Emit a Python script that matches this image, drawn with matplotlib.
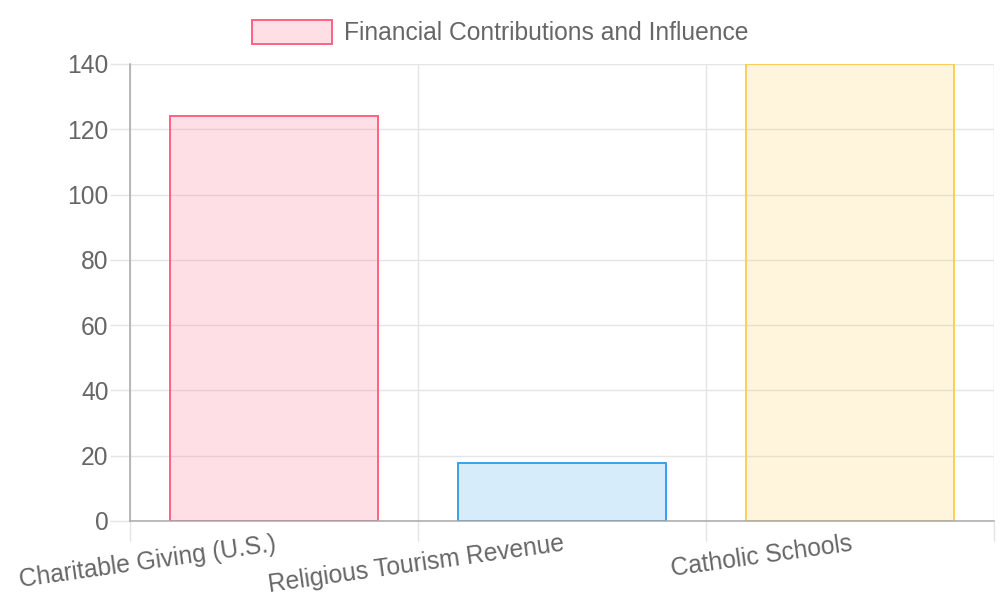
import matplotlib.pyplot as plt
import numpy as np

plt.rcParams['font.family'] = ['Liberation Sans', 'DejaVu Sans']

categories = ['Charitable Giving (U.S.)', 'Religious Tourism Revenue', 'Catholic Schools']
values = [124, 17.7, 140]
legend_label = 'Financial Contributions and Influence'

fill_colors = [(1, 99/255, 132/255, 0.2), (54/255, 162/255, 235/255, 0.2), (1, 206/255, 86/255, 0.2)]
edge_colors = ['#ff6384', '#36a2eb', '#ffce56']
TEXT = '#666666'
GRID = '#e5e5e5'
AXIS = '#a8a8a8'
FS = 17.7

fig = plt.figure(figsize=(10, 6), dpi=100)
ax = fig.add_axes([0.13, 0.1317, 0.864, 0.7617])

x = np.arange(len(categories))
bars = ax.bar(x, values, width=0.72, color=fill_colors, edgecolor=edge_colors,
              linewidth=1.4, label=legend_label, zorder=3)

ax.set_xlim(-0.5, len(categories) - 0.5)
ax.set_ylim(0, 140)
ax.set_yticks(np.arange(0, 141, 20))

ax.set_xticks(x)
ax.set_xticks(np.arange(-0.5, len(categories)), minor=True)
ax.set_xticklabels(categories, rotation=8, ha='right', rotation_mode='anchor',
                   fontsize=FS, color=TEXT)
ax.tick_params(axis='x', which='major', length=0, pad=8)
ax.tick_params(axis='x', which='minor', length=14.5, color=GRID, width=1)
ax.tick_params(axis='y', length=14.5, color=GRID, width=1, labelsize=FS,
               labelcolor=TEXT, pad=1)

ax.grid(True, axis='y', color=GRID, linewidth=1, zorder=0)
ax.grid(True, axis='x', which='minor', color=GRID, linewidth=1, zorder=0)
ax.grid(False, axis='x', which='major')

for side in ['top', 'right']:
    ax.spines[side].set_visible(False)
ax.spines['left'].set_color(AXIS)
ax.spines['bottom'].set_color(AXIS)
ax.spines['left'].set_linewidth(1.1)
ax.spines['bottom'].set_linewidth(1.1)
ax.spines['left'].set_zorder(4)
ax.spines['bottom'].set_zorder(4)

leg = fig.legend(handles=[bars[0]], labels=[legend_label], loc='upper center',
                 bbox_to_anchor=(0.5, 1 - 20 / 600), frameon=False, fontsize=FS,
                 handlelength=3.25, handleheight=1.1, handletextpad=0.5,
                 borderpad=0, borderaxespad=0)
for t in leg.get_texts():
    t.set_color(TEXT)

fig.savefig('out.png', dpi=100)
